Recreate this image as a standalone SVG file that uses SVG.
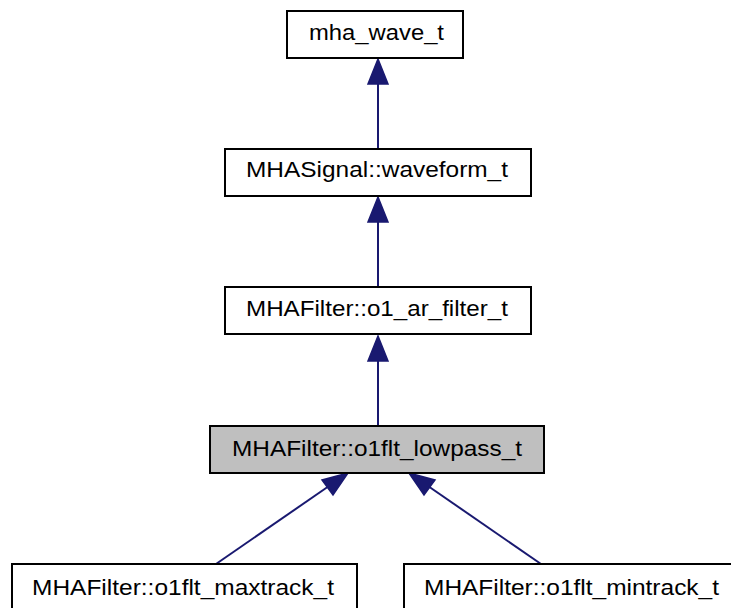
<svg xmlns="http://www.w3.org/2000/svg" width="731" height="608" viewBox="0 0 731 608">
<style>
.box{fill:#ffffff;stroke:#000000;stroke-width:2}
.cur{fill:#bfbfbf;stroke:#000000;stroke-width:2}
.lbl{font-family:"Liberation Sans",Arial,sans-serif;font-size:22px;fill:#000000;text-anchor:start}
.edge{stroke:#191970;stroke-width:2;fill:none}
.head{fill:#191970;stroke:#191970;stroke-width:1.5}
</style>
<rect width="731" height="608" fill="#ffffff"/>
<g id="connectors">
<line class="edge" x1="378" y1="149" x2="378" y2="82"/>
<polygon class="head" points="378,59 368,84 388,84"/>
<line class="edge" x1="378" y1="287" x2="378" y2="220"/>
<polygon class="head" points="378,197 368,222 388,222"/>
<line class="edge" x1="378" y1="426" x2="378" y2="359"/>
<polygon class="head" points="378,336 368,361 388,361"/>
<line class="edge" x1="216" y1="564" x2="329" y2="486"/>
<polygon class="head" points="348,473 322,480 333,495"/>
<line class="edge" x1="541" y1="564" x2="428" y2="486"/>
<polygon class="head" points="409,473 424,495 435,480"/>
</g>
<g id="node_mha_wave_t">
<rect class="box" x="287" y="11" width="176" height="47"/>
<text class="lbl" x="309" y="40" textLength="135" lengthAdjust="spacingAndGlyphs">mha_wave_t</text>
</g>
<g id="node_waveform_t">
<rect class="box" x="225" y="149" width="306" height="47"/>
<text class="lbl" x="246" y="177" textLength="262" lengthAdjust="spacingAndGlyphs">MHASignal::waveform_t</text>
</g>
<g id="node_o1_ar_filter_t">
<rect class="box" x="225" y="287" width="306" height="47"/>
<text class="lbl" x="246" y="316" textLength="262" lengthAdjust="spacingAndGlyphs">MHAFilter::o1_ar_filter_t</text>
</g>
<g id="node_o1flt_lowpass_t">
<rect class="cur" x="210" y="426" width="334" height="47"/>
<text class="lbl" x="232" y="456" textLength="290" lengthAdjust="spacingAndGlyphs">MHAFilter::o1flt_lowpass_t</text>
</g>
<g id="node_o1flt_maxtrack_t">
<rect class="box" x="12" y="564" width="345" height="50"/>
<text class="lbl" x="32" y="595" textLength="302" lengthAdjust="spacingAndGlyphs">MHAFilter::o1flt_maxtrack_t</text>
</g>
<g id="node_o1flt_mintrack_t">
<rect class="box" x="404" y="564" width="345" height="50"/>
<text class="lbl" x="424" y="595" textLength="295" lengthAdjust="spacingAndGlyphs">MHAFilter::o1flt_mintrack_t</text>
</g>
</svg>
